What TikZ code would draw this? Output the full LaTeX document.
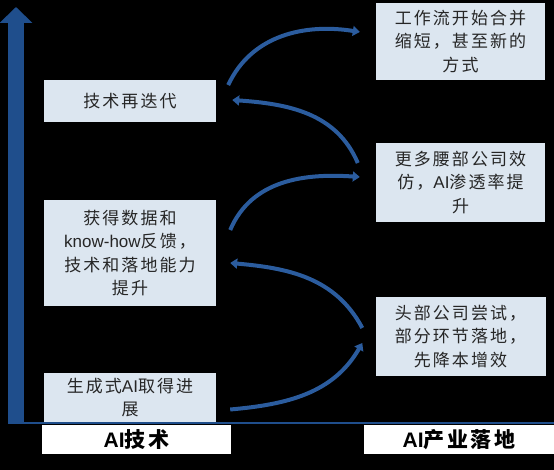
\documentclass[tikz,border=0pt]{standalone}
\usepackage{fontspec}
\setmainfont[LetterSpace=12]{Noto Sans CJK SC}
\newfontfamily\latfont{Liberation Sans}
\newcommand{\lat}[1]{{\latfont #1}}
\usetikzlibrary{arrows.meta}

\definecolor{axisblue}{HTML}{1F4E8C}
\definecolor{curveblue}{HTML}{2B5C9E}
\definecolor{boxfill}{HTML}{DCE6F0}

\begin{document}
\begin{tikzpicture}[x=1pt, y=1pt,
  stage/.style={fill=boxfill, inner sep=0pt, align=center, text=black!85,
    font=\fontsize{17}{23.5}\selectfont},
  axislabel/.style={fill=white, inner sep=0pt, minimum height=29pt,
    font=\fontsize{21}{24}\selectfont\bfseries},
  loop arrow/.style={curveblue, line width=4pt, -{Triangle[length=7pt, width=10pt]}}]
  \useasboundingbox (0,0) rectangle (554,470);
  \fill[black] (0,0) rectangle (554,470);

  % axes
  \coordinate (xstart) at (8,47);
  \coordinate (xend) at (554,47);
  \coordinate (origin) at (16,47);
  \coordinate (top) at (16,463);
  \draw[axisblue, line width=2pt] (xstart) -- (xend);
  \draw[axisblue, line width=16pt, -{Triangle[length=16pt, width=32pt]}] (origin) -- (top);

  % left column: technology
  \node[stage, minimum width=172pt, minimum height=42pt] (iterate) at (130,369) {技术再迭代};
  \node[stage, minimum width=172pt, minimum height=106pt] (feedback) at (130,217)
    {获得数据和\\\lat{know-how}反馈，\\技术和落地能力\\提升};
  \node[stage, minimum width=172pt, minimum height=49pt] (progress) at (130,72.5)
    {生成式\lat{AI}取得进\\展};

  % right column: adoption
  \node[stage, minimum width=169pt, minimum height=77pt] (workflow) at (460.5,428.5)
    {工作流开始合并\\缩短，甚至新的\\方式};
  \node[stage, minimum width=169pt, minimum height=79pt] (imitate) at (460.5,287.5)
    {更多腰部公司效\\仿，\lat{AI}渗透率提\\升};
  \node[stage, minimum width=170pt, minimum height=79pt] (trial) at (460.5,133.5)
    {头部公司尝试，\\部分环节落地，\\先降本增效};

  \node[axislabel, minimum width=189pt] (techlabel) at (136.5,30.5) {\lat{AI}技术};
  \node[axislabel, minimum width=190pt] (industrylabel) at (459,30.5) {\lat{AI}产业落地};

  % loop between the columns
  \draw[loop arrow] ([shift={(14pt,-12pt)}]progress.east) to[out=5, in=240]
    ([shift={(-13pt,-6.5pt)}]trial.west);
  \draw[loop arrow] ([shift={(-13pt,8.5pt)}]trial.west) to[out=118, in=-5]
    ([shift={(14pt,-10pt)}]feedback.east);
  \draw[loop arrow] ([shift={(14pt,23pt)}]feedback.east) to[out=67, in=176]
    ([shift={(-16pt,5.5pt)}]imitate.west);
  \draw[loop arrow] ([shift={(-18pt,19.5pt)}]imitate.west) to[out=113, in=-4]
    ([shift={(16pt,1pt)}]iterate.east);
  \draw[loop arrow] ([shift={(12pt,16pt)}]iterate.east) to[out=65, in=171]
    ([shift={(-16pt,9.5pt)}]workflow.west);
\end{tikzpicture}
\end{document}
